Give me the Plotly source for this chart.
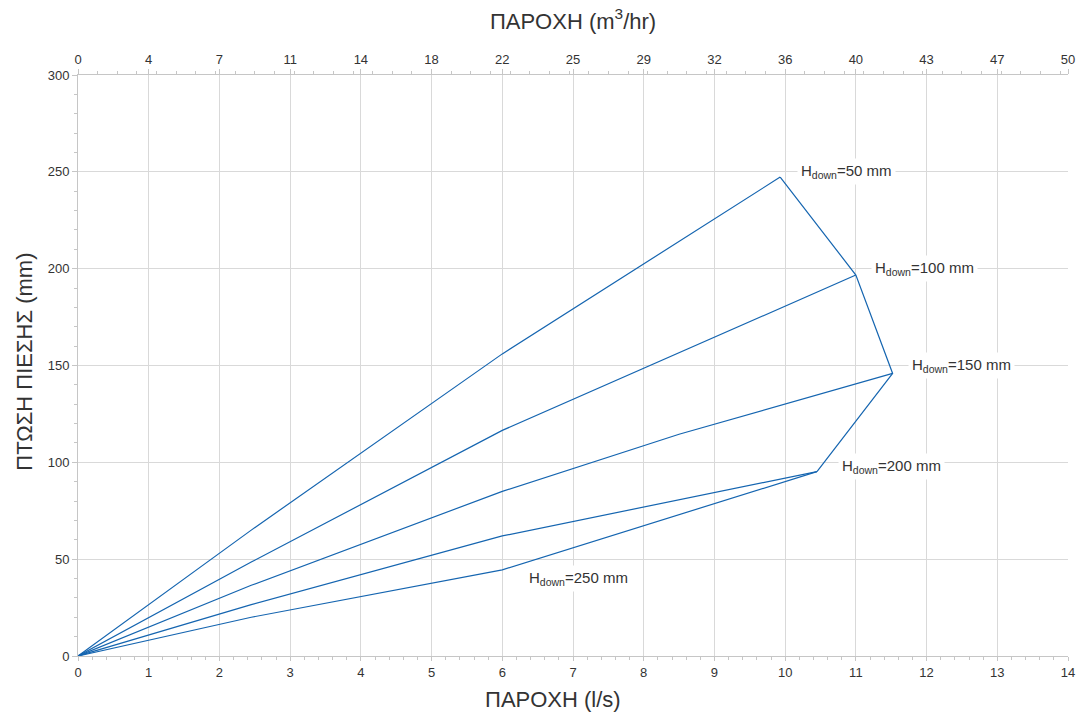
import plotly.graph_objects as go

# ---- data ----
x_h50 = [0, 2.45, 6.0, 9.93]
y_h50 = [0, 65.0, 156.0, 247.3]

x_h100 = [0, 2.45, 6.0, 11.0]
y_h100 = [0, 48.5, 116.5, 196.7]

x_h150 = [0, 2.45, 6.0, 8.5, 11.52]
y_h150 = [0, 36.5, 85.0, 114.5, 145.9]

x_h200 = [0, 2.45, 6.0, 10.45]
y_h200 = [0, 26.5, 62.0, 95.2]

x_h250 = [0, 2.45, 6.0, 10.45]
y_h250 = [0, 20.0, 44.5, 95.2]

# envelope joining the end points
x_env = [9.93, 11.0, 11.52, 10.45]
y_env = [247.3, 196.7, 145.9, 95.2]

labels = ["H<sub>down</sub>=50 mm", "H<sub>down</sub>=100 mm", "H<sub>down</sub>=150 mm",
          "H<sub>down</sub>=200 mm", "H<sub>down</sub>=250 mm"]
label_x = [10.17, 11.22, 11.74, 10.75, 6.32]
label_y = [250, 200, 150, 98, 40]

x_ticks = list(range(0, 15))
top_tick_text = ["0", "4", "7", "11", "14", "18", "22", "25", "29", "32", "36", "40", "43", "47", "50"]
m3_minor = [k / 3.6 for k in range(0, 51)]

x_title = "ΠΑΡΟΧΗ (l/s)"
x2_title = "ΠΑΡΟΧΗ (m<sup>3</sup>/hr)"
y_title = "ΠΤΩΣΗ ΠΙΕΣΗΣ (mm)"

LINE = "#1565b0"
GRID = "#d9d9d9"
AXL = "#c6c6c6"
TXT = "#333333"
FONT = "Liberation Sans, Arial, sans-serif"

fig = go.Figure()
for xs, ys in [(x_h50, y_h50), (x_h100, y_h100), (x_h150, y_h150),
               (x_h200, y_h200), (x_h250, y_h250), (x_env, y_env)]:
    fig.add_trace(go.Scatter(x=xs, y=ys, mode="lines",
                             line=dict(color=LINE, width=1.2),
                             showlegend=False, hoverinfo="x+y"))
# invisible trace for the top axis
fig.add_trace(go.Scatter(x=[0, 14], y=[0, 0], xaxis="x2", mode="lines",
                         line=dict(width=0), showlegend=False, hoverinfo="skip"))

for t, lx, ly in zip(labels, label_x, label_y):
    fig.add_annotation(x=lx, y=ly, text=t, showarrow=False, xanchor="left",
                       yanchor="middle", bgcolor="white", borderpad=3,
                       font=dict(family=FONT, size=15, color=TXT))

# axis titles placed as in the reference
fig.add_annotation(x=6.72, xref="x", y=-0.0757, yref="paper", text=x_title,
                   showarrow=False, xanchor="center", yanchor="middle",
                   font=dict(family=FONT, size=22, color=TXT))
fig.add_annotation(x=-0.0535, xref="paper", y=152, yref="y", text=y_title,
                   showarrow=False, xanchor="center", yanchor="middle", textangle=-90,
                   font=dict(family=FONT, size=22, color=TXT))

fig.update_layout(
    width=1080, height=718,
    margin=dict(l=78, r=12, t=75, b=62, autoexpand=False),
    paper_bgcolor="white", plot_bgcolor="white",
    font=dict(family=FONT, size=13, color=TXT),
    xaxis=dict(range=[0, 14], tickmode="array", tickvals=x_ticks, automargin=False,
               showgrid=True, gridcolor=GRID, gridwidth=1,
               showline=True, linecolor=AXL, linewidth=1,
               ticks="outside", ticklen=4, tickcolor=AXL,
               minor=dict(dtick=0.2, ticks="outside", ticklen=3, tickcolor=AXL, showgrid=False),
               zeroline=False,
               tickfont=dict(family=FONT, size=13, color=TXT)),
    xaxis2=dict(range=[0, 14], overlaying="x", side="top", tickmode="array", automargin=False,
                tickvals=x_ticks, ticktext=top_tick_text,
                showgrid=False, showline=True, linecolor=AXL, linewidth=1,
                ticks="outside", ticklen=5, tickcolor=AXL,
                minor=dict(tickvals=m3_minor, ticks="outside", ticklen=3, tickcolor=AXL, showgrid=False),
                zeroline=False,
                tickfont=dict(family=FONT, size=13, color=TXT),
                title=dict(text=x2_title, font=dict(family=FONT, size=22, color=TXT), standoff=16)),
    yaxis=dict(range=[0, 300], dtick=50, automargin=False, showgrid=True, gridcolor=GRID, gridwidth=1,
               showline=True, linecolor=AXL, linewidth=1,
               ticks="outside", ticklen=5, tickcolor=AXL,
               minor=dict(dtick=10, ticks="outside", ticklen=3, tickcolor=AXL, showgrid=False),
               zeroline=False,
               tickfont=dict(family=FONT, size=13, color=TXT)),
)

fig.write_html("out.html", config={"displayModeBar": False},
               post_script="document.body.style.margin='0';")
